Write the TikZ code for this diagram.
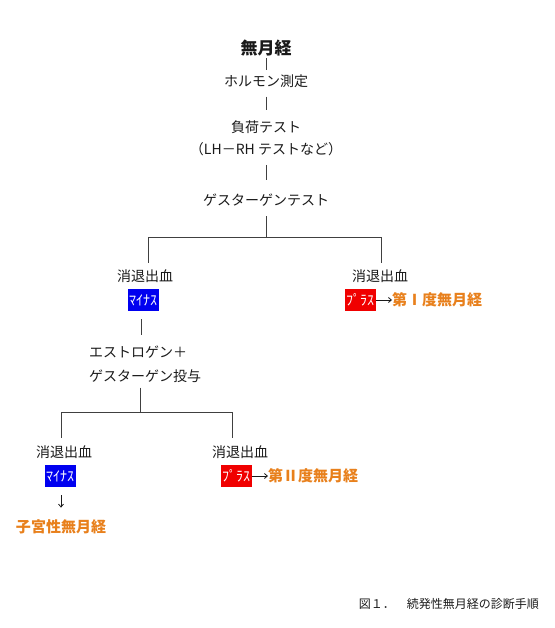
\documentclass[tikz,border=0pt]{standalone}
\usepackage{fontspec}
\setmainfont{Noto Sans CJK JP}
\usepackage{tikz}
\usetikzlibrary{arrows.meta,positioning,calc}
\definecolor{ink}{HTML}{1A1A1A}
\definecolor{wire}{HTML}{404040}
\definecolor{minusc}{HTML}{0000F0}
\definecolor{plusc}{HTML}{F00000}
\definecolor{gradec}{HTML}{E8801C}
\tikzset{
  txt/.style={font=\fontsize{14}{16}\selectfont,text=ink,inner sep=1pt},
  head/.style={font=\fontsize{17}{19}\selectfont\bfseries,text=ink,inner sep=1pt},
  grade/.style={font=\fontsize{15}{17}\selectfont\bfseries,text=gradec,inner sep=0pt},
  minusbox/.style={fill=minusc,text=white,font=\fontsize{14}{15}\selectfont,
    minimum width=31pt,minimum height=22pt,inner sep=0pt},
  plusbox/.style={minusbox,fill=plusc},
  link/.style={wire,line width=1pt},
  arr/.style={ink,line width=0.8pt,-{Straight Barb[length=3pt,width=5pt]}},
  capt/.style={font=\fontsize{12}{14}\selectfont,text=ink,inner sep=0pt},
}

\begin{document}
\begin{tikzpicture}[x=1pt,y=-1pt]
  \useasboundingbox (0,0) rectangle (554,628);
  \node[head] (amen) at (266,48) {無月経};
  \node[txt] (horm) at (266,81) {ホルモン測定};
  \node[txt] (load) at (266,127) {負荷テスト};
  \node[txt] (lhrh) at (266,149) {（LH－RH テストなど）};
  \node[txt] (gest) at (266,200) {ゲスターゲンテスト};
  \draw[link,shorten <=1pt,shorten >=3pt] (amen) -- (horm);
  \draw[link,shorten <=8pt,shorten >=9pt] (horm) -- (load);
  \draw[link,shorten <=8pt,shorten >=13pt] (lhrh) -- (gest);
  % first test
  \coordinate (b1) at (266,237);
  \coordinate (c1) at (148,263);
  \coordinate (c2) at (381,263);
  \draw[link,shorten <=9pt] (gest) -- (b1);
  \draw[link] (b1) -| (c1);
  \draw[link] (b1) -| (c2);
  \node[txt] (wd1) at (145,276) {消退出血};
  \node[txt] (wd2) at (380,276) {消退出血};
  \node[minusbox] (neg1) at (143,300) {ﾏｲﾅｽ};
  \node[plusbox] (pos1) at (360,300) {ﾌﾟﾗｽ};
  \node[grade,anchor=west] (gr1) at (392,300) {第Ⅰ度無月経};
  \draw[arr] (pos1) -- (gr1);
  % second test
  \node[txt,anchor=west] (estr) at (88,352) {エストロゲン＋};
  \node[txt,anchor=west] (gest2) at (88,376) {ゲスターゲン投与};
  \draw[link,shorten <=8pt,shorten >=10pt] (neg1.south -| 141,0) -- (estr.north -| 141,0);
  \coordinate (b2) at (140,412);
  \coordinate (c3) at (61,438);
  \coordinate (c4) at (232,438);
  \draw[link,shorten <=4pt] (gest2.south -| b2) -- (b2);
  \draw[link] (b2) -| (c3);
  \draw[link] (b2) -| (c4);
  \node[txt] (wd3) at (64,452) {消退出血};
  \node[txt] (wd4) at (240,452) {消退出血};
  \node[minusbox] (neg2) at (60,476) {ﾏｲﾅｽ};
  \node[plusbox] (pos2) at (236,476) {ﾌﾟﾗｽ};
  \node[grade,anchor=west] (gr2) at (268,476) {第Ⅱ度無月経};
  \draw[arr] (pos2) -- (gr2);
  \node[grade] (uter) at (61,527) {子宮性無月経};
  \draw[arr,shorten <=8pt,shorten >=12pt] (neg2.south -| 61,0) -- (uter.north -| 61,0);
  \node[capt,anchor=east] (fig) at (539,604) {図１．　続発性無月経の診断手順};
\end{tikzpicture}
\end{document}
